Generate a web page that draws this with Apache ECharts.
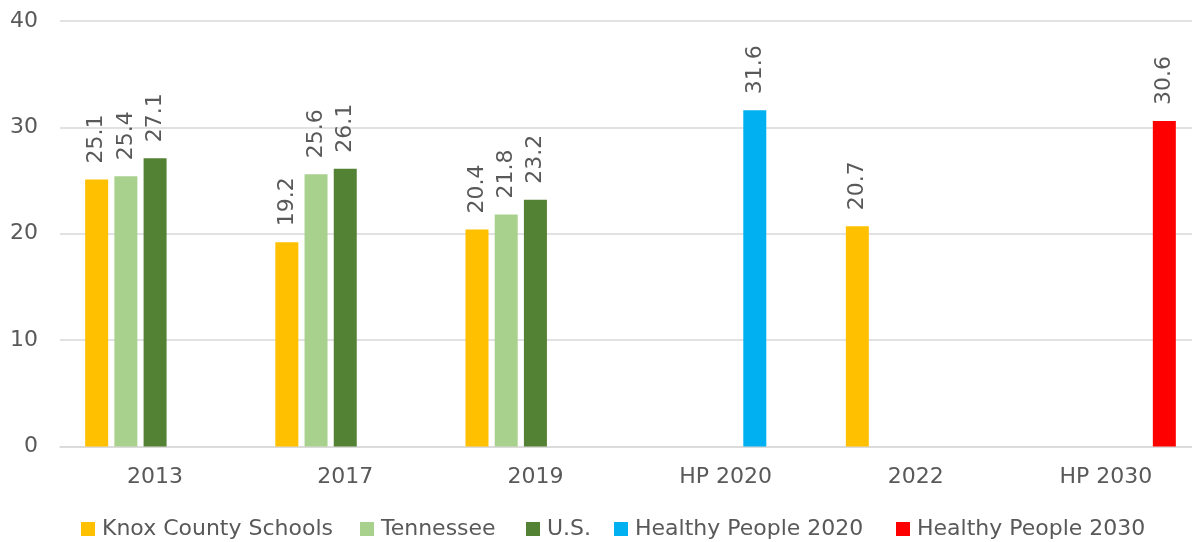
<!DOCTYPE html>
<html>
<head>
<meta charset="utf-8">
<script src="https://cdn.jsdelivr.net/npm/echarts@6/dist/echarts.min.js"></script>
<style>
html,body{margin:0;padding:0;background:#fff;overflow:hidden;width:1192px;height:542px;}
#chart{width:1201px;height:542px;}
</style>
</head>
<body>
<div id="chart"></div>
<script>
const categories = ['2013', '2017', '2019', 'HP 2020', '2022', 'HP 2030'];
const seriesNames = ['Knox County Schools', 'Tennessee', 'U.S.', 'Healthy People 2020', 'Healthy People 2030'];
const knox = [25.1, 19.2, 20.4, null, 20.7, null];
const tennessee = [25.4, 25.6, 21.8, null, null, null];
const us = [27.1, 26.1, 23.2, null, null, null];
const hp2020 = [null, null, null, 31.6, null, null];
const hp2030 = [null, null, null, null, null, 30.6];
const yTicks = [0, 10, 20, 30, 40];
const colors = ['#FFC000', '#A9D18E', '#548235', '#00B0F0', '#FF0000'];

const FONT = 'DejaVu Sans';
const TXT = '#595959';
const allData = [knox, tennessee, us, hp2020, hp2030];
const legendLeft = [81, 360, 526, 614, 896];

const chart = echarts.init(document.getElementById('chart'), null, {renderer: 'canvas'});
chart.setOption({
  animation: false,
  color: colors,
  textStyle: {fontFamily: FONT, color: TXT},
  grid: {left: 60, right: 0, top: 21, bottom: 95.5, containLabel: false},
  legend: seriesNames.map((name, i) => ({
    left: legendLeft[i], top: 518, padding: 0,
    itemWidth: 14, itemHeight: 14, itemGap: 0,
    icon: 'rect',
    textStyle: {fontSize: 22, color: TXT, fontFamily: FONT, padding: [0, 0, 0, 2]},
    data: [name]
  })),
  xAxis: {
    type: 'category',
    data: categories,
    axisLine: {lineStyle: {color: '#D9D9D9', width: 1.5}},
    axisTick: {show: false},
    axisLabel: {fontSize: 22, color: TXT, margin: 20, fontFamily: FONT}
  },
  yAxis: {
    type: 'value',
    min: yTicks[0], max: yTicks[yTicks.length - 1], interval: 10,
    axisLine: {show: false},
    axisTick: {show: false},
    splitLine: {lineStyle: {color: '#D9D9D9', width: 1.5}},
    axisLabel: {fontSize: 22, color: TXT, margin: 22, fontFamily: FONT}
  },
  series: seriesNames.map((name, i) => ({
    name: name,
    type: 'bar',
    data: allData[i],
    barWidth: 23,
    barGap: '27%',
    itemStyle: {color: colors[i]},
    label: {
      show: true,
      position: 'top',
      rotate: 90,
      align: 'left',
      verticalAlign: 'middle',
      distance: 16,
      fontSize: 22,
      color: TXT,
      fontFamily: FONT,
      formatter: p => p.value == null ? '' : p.value.toFixed(1)
    }
  }))
});
</script>
</body>
</html>
